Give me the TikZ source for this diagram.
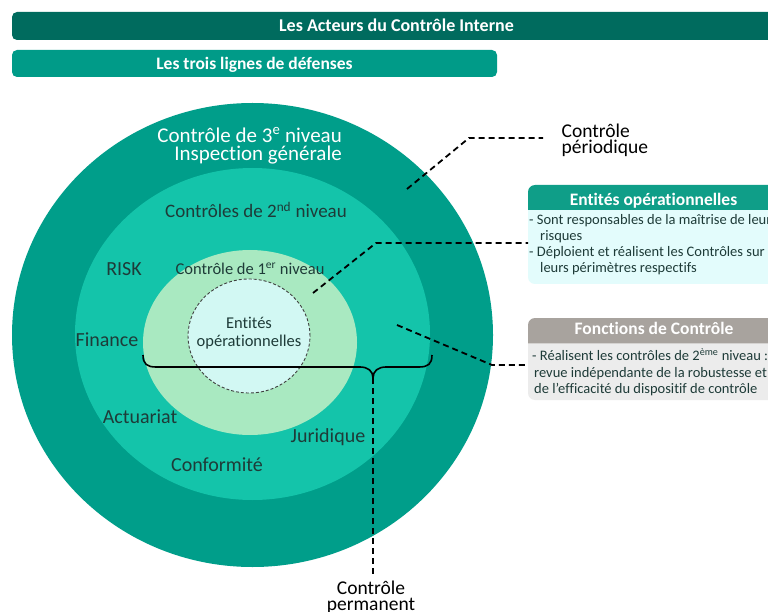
\documentclass[tikz,border=0pt]{standalone}
\usepackage{fontspec}
\setmainfont{Carlito}[Ligatures=NoCommon]
\definecolor{titlebar}{HTML}{006B5E}
\definecolor{subbar}{HTML}{009B88}
\definecolor{ringthree}{HTML}{009E8A}
\definecolor{ringtwo}{HTML}{14C4AA}
\definecolor{ringone}{HTML}{A9E9C1}
\definecolor{corefill}{HTML}{D2F8F3}
\definecolor{txtdark}{HTML}{1E3B38}
\definecolor{eohead}{HTML}{0F9E88}
\definecolor{eobody}{HTML}{E3FCFC}
\definecolor{fchead}{HTML}{A8A39E}
\definecolor{fcbody}{HTML}{ECECEC}
\newcommand\fsz[2]{\fontsize{#1}{#2}\selectfont}
\tikzset{
  lbl/.style={inner sep=0pt, anchor=base, text=txtdark, font=\fsz{20}{24}},
  hdrtxt/.style={inner sep=0pt, anchor=base, text=white, font=\fsz{17.5}{20}\bfseries},
  bodytxt/.style={inner sep=0pt, anchor=base west, text=txtdark, font=\fsz{14.5}{17}},
  sidelbl/.style={inner sep=0pt, text=black, font=\fsz{19.5}{16}},
  dashline/.style={black, line width=1.8pt, dash pattern=on 6pt off 4pt},
}
\begin{document}
\begin{tikzpicture}[x=1pt,y=-1pt]
\clip (0,0) rectangle (768,612);
\fill[white] (0,0) rectangle (768,612);

% title bars
\fill[titlebar, rounded corners=5pt] (12,12) rectangle (800,40);
\node[hdrtxt, font=\fsz{18}{20}\bfseries] (title) at (396.5,31.5) {Les Acteurs du Contrôle Interne};
\fill[subbar, rounded corners=5pt] (12,50) rectangle (497,77);
\node[hdrtxt] (sub) at (254.5,69.5) {Les trois lignes de défenses};

% rings
\fill[ringthree] (252.5,335) ellipse [x radius=240.5pt, y radius=232pt];
\fill[ringtwo] (252.5,334) ellipse [x radius=177.5pt, y radius=166pt];
\fill[ringone] (250,342.5) ellipse [x radius=107pt, y radius=92.5pt];
\draw[fill=corefill, draw=black!75, line width=0.9pt, dash pattern=on 3pt off 2pt] (249,336) ellipse [x radius=61pt, y radius=57pt];

% ring labels
\node[lbl, anchor=base east, align=right, text=white, font=\fsz{21}{18}] (n3) at (342,160.5) {Contrôle de 3\textsuperscript{e} niveau\\Inspection générale};
\node[lbl, font=\fsz{19}{22}] (n2) at (256,217.7) {Contrôles de 2\textsuperscript{nd} niveau};
\node[lbl] (risk) at (124,276) {RISK};
\node[lbl, font=\fsz{16.5}{20}] (n1) at (250,274.5) {Contrôle de 1\textsuperscript{er} niveau};
\node[lbl, align=center, font=\fsz{16.5}{17.5}] (eo) at (249,346) {Entités\\opérationnelles};
\node[lbl] (fin) at (107,346.7) {Finance};
\node[lbl] (act) at (140,423.5) {Actuariat};
\node[lbl] (jur) at (328,442.7) {Juridique};
\node[lbl] (conf) at (217,471.5) {Conformité};

% brace
\coordinate (bl) at (143,355);
\coordinate (br) at (432,355);
\coordinate (bt) at (373,378);
\draw[black, line width=1.6pt] (bl) .. controls (143,364) and (147,367) .. (156,367) -- (360,367) .. controls (368,367) and (373,371) .. (bt) .. controls (373,371) and (378,367) .. (386,367) -- (419,367) .. controls (428,367) and (432,364) .. (br);
\coordinate (pe) at (373,576);
\draw[dashline] (bt) -- (pe);
\node[sidelbl, anchor=base, align=center] (perm) at (371,610) {Contrôle\\permanent};

% periodique
\coordinate (d1a) at (407,189);
\coordinate (d1b) at (469,138);
\coordinate (d1c) at (543,138);
\draw[dashline] (d1a) -- (d1b) -- (d1c);
\node[sidelbl, anchor=base west, align=left] (per) at (561.5,153.5) {Contrôle\\périodique};

% Entites operationnelles box
\fill[eobody] (800,209) -- (528,209) [rounded corners=7pt] -- (528,284) -- (800,284) [sharp corners] -- cycle;
\fill[eohead] (800,210) -- (528,210) [rounded corners=7pt] -- (528,185) -- (800,185) [sharp corners] -- cycle;
\node[hdrtxt] (eoh) at (653.5,205.5) {Entités opérationnelles};
\node[bodytxt] (eol1) at (529,224.5) {- Sont responsables de la maîtrise de leur};
\node[bodytxt] (eol2) at (540,240.5) {risques};
\node[bodytxt] (eol3) at (529,256.5) {- Déploient et réalisent les Contrôles sur};
\node[bodytxt] (eol4) at (540,272.5) {leurs périmètres respectifs};
\coordinate (d2a) at (313,293);
\coordinate (d2b) at (376,243);
\coordinate (d2c) at (528,243);
\draw[dashline] (d2a) -- (d2b) -- (d2c);

% Fonctions de controle box
\fill[fcbody] (800,342) -- (528,342) [rounded corners=7pt] -- (528,400) -- (800,400) [sharp corners] -- cycle;
\fill[fchead] (800,343.3) -- (528,343.3) [rounded corners=7pt] -- (528,318) -- (800,318) [sharp corners] -- cycle;
\node[hdrtxt] (fch) at (654,334) {Fonctions de Contrôle};
\node[bodytxt] (fcl1) at (532,360.5) {- Réalisent les contrôles de 2\textsuperscript{ème} niveau :};
\node[bodytxt] (fcl2) at (534,377.5) {revue indépendante de la robustesse et};
\node[bodytxt] (fcl3) at (534,393.5) {de l’efficacité du dispositif de contrôle};
\coordinate (d3a) at (397,325);
\coordinate (d3b) at (492,365);
\coordinate (d3c) at (528,365);
\draw[dashline] (d3a) -- (d3b) -- (d3c);
\end{tikzpicture}
\end{document}
